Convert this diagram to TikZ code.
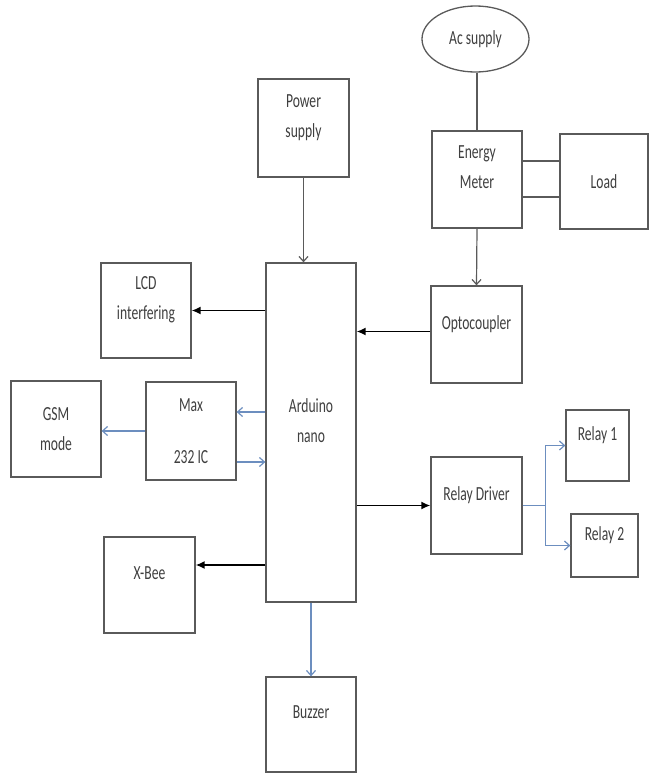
\documentclass[tikz,border=0pt]{standalone}
\usepackage{fontspec}
\setmainfont{Carlito}[FakeStretch=0.68]
\usetikzlibrary{arrows.meta,calc,shapes.geometric}

\definecolor{boxgray}{HTML}{5A5A5A}
\definecolor{txtgray}{HTML}{3F3F3F}
\definecolor{linkblue}{HTML}{6C8EBF}

\begin{document}
\begin{tikzpicture}[x=1pt,y=-1pt]
	\tikzstyle{block} = [draw=boxgray, line width=1.3pt, rectangle, text=txtgray, align=center, inner sep=0pt, font=\fontsize{20}{30}\selectfont]
	\tikzstyle{lift} = [text depth=24pt]
	\tikzstyle{wire} = [draw=boxgray, line width=1.2pt]
	\tikzstyle{feed} = [wire, -{Straight Barb[length=5pt,width=9pt]}]
	\tikzstyle{bus} = [draw=black, line width=1.6pt, -{Latex[length=9pt,width=8pt]}]
	\tikzstyle{link} = [draw=linkblue, line width=1.2pt, -{Straight Barb[length=5pt,width=9pt]}]
	
	\useasboundingbox (0,0) rectangle (649,774);
	
	\node [block, ellipse, minimum width=107pt, minimum height=66pt] (ac) at (475.5,39) {Ac supply};
	\node [block, lift, minimum width=91pt, minimum height=98pt] (power) at (303.5,128) {Power\\supply};
	\node [block, lift, minimum width=90pt, minimum height=97pt] (energy) at (477,179.5) {Energy\\Meter};
	\node [block, minimum width=88pt, minimum height=95pt] (load) at (604,181.5) {Load};
	
	\node [block, lift, minimum width=90pt, minimum height=95pt] (lcd) at (146,310.5) {LCD\\interfering};
	\node [block, lift, minimum width=90pt, minimum height=339pt] (arduino) at (311,432.5) {Arduino\\nano};
	\node [block, lift, minimum width=91pt, minimum height=97pt] (opto) at (476.5,334.5) {Optocoupler};
	
	\node [block, minimum width=90pt, minimum height=96pt] (gsm) at (56,429) {GSM\\mode};
	\node [block, minimum width=90pt, minimum height=98pt] (max) at (191,431) {Max\\[22pt]232 IC};
	
	\node [block, lift, minimum width=63pt, minimum height=71pt] (relay1) at (597.5,445.5) {Relay 1};
	\node [block, lift, minimum width=91pt, minimum height=97pt] (driver) at (476.5,505.5) {Relay Driver};
	\node [block, lift, minimum width=67pt, minimum height=63pt] (relay2) at (604.5,545.5) {Relay 2};
	
	\node [block, lift, minimum width=91pt, minimum height=96pt] (xbee) at (149.5,585) {X-Bee};
	\node [block, lift, minimum width=90pt, minimum height=95pt] (buzzer) at (311,724.5) {Buzzer};
	
	\coordinate (e1) at ($(energy.east)+(0,-18.5)$);
	\coordinate (e2) at ($(energy.east)+(0,17.5)$);
	\coordinate (o1) at ($(opto.west)+(0,-3)$);
	\coordinate (m1) at ($(max.east)+(0,-19)$);
	\coordinate (m2) at ($(max.east)+(0,31)$);
	\coordinate (x1) at ($(xbee.east)+(0,-20)$);
	\coordinate (br) at ($(driver.east)+(23,0)$);
	
	\draw [wire] (energy.north |- ac.south) -- (energy.north);
	\draw [wire] (e1) -- (e1 -| load.west);
	\draw [wire] (e2) -- (e2 -| load.west);
	\draw [feed] (power.south) -- (power.south |- arduino.north);
	\draw [feed] (energy.south) -- (opto.north);
	\draw [bus] (lcd.east -| arduino.west) -- (lcd.east);
	\draw [bus] (o1) -- (o1 -| arduino.east);
	\draw [link] (m1 -| arduino.west) -- (m1);
	\draw [link] (m2) -- (m2 -| arduino.west);
	\draw [link] (max.west) -- (max.west -| gsm.east);
	\draw [bus] (driver.west -| arduino.east) -- (driver.west);
	\draw [bus] (x1 -| arduino.west) -- (x1);
	\draw [link] (arduino.south) -- (buzzer.north);
	\draw [draw=linkblue, line width=1.2pt] (driver.east) -- (br);
	\draw [link] (br) |- (relay1.west);
	\draw [link] (br) |- (relay2.west);
	
\end{tikzpicture}
\end{document}
